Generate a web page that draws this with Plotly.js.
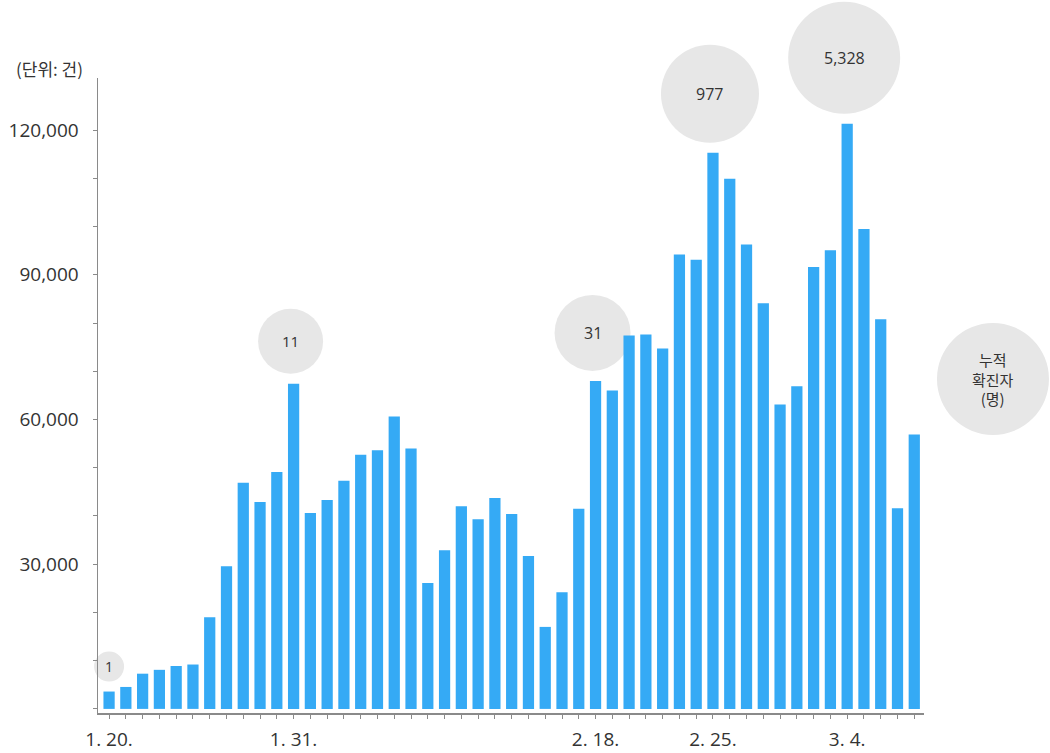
<!DOCTYPE html>
<html>
<head>
<meta charset="utf-8">
<script src="https://cdn.plot.ly/plotly-3.0.1.min.js"></script>
<style>
  html, body { margin: 0; padding: 0; background: #ffffff; }
  #chart { width: 1050px; height: 753px; }
</style>
</head>
<body>
<div id="chart"></div>
<script>
// Dates (categories), 2020-01-20 .. 2020-03-08
const dates = [
  "1.20","1.21","1.22","1.23","1.24","1.25","1.26","1.27","1.28","1.29","1.30","1.31",
  "2.1","2.2","2.3","2.4","2.5","2.6","2.7","2.8","2.9","2.10","2.11","2.12","2.13","2.14",
  "2.15","2.16","2.17","2.18","2.19","2.20","2.21","2.22","2.23","2.24","2.25","2.26","2.27",
  "2.28","2.29","3.1","3.2","3.3","3.4","3.5","3.6","3.7","3.8"
];
// Daily count (단위: 건)
const counts = [
  3600, 4550, 7300, 8100, 8900, 9200, 19000, 29600, 46900, 42900, 49100, 67400,
  40600, 43300, 47300, 52700, 53600, 60600, 54000, 26100, 32900, 42000, 39300, 43700, 40400,
  31700, 17000, 24200, 41500, 68000, 66000, 77400, 77600, 74700, 94200, 93100, 115300, 109900,
  96300, 84100, 63100, 66900, 91600, 95100, 121300, 99500, 80800, 41600, 56900
];
// Labelled x ticks
const tickDates = ["1.20", "1.31", "2.18", "2.25", "3.4"];
const tickTexts = ["1. 20.", "1. 31.", "2. 18.", "2. 25.", "3. 4."];
// Y tick labels
const yTickVals = [30000, 60000, 90000, 120000];
const yTickText = ["30,000", "60,000", "90,000", "120,000"];
const yMinorVals = [0, 10000, 20000, 40000, 50000, 70000, 80000, 100000, 110000];
// Cumulative confirmed cases bubbles (누적 확진자)
const bubbleDates = ["1.20", "1.31", "2.18", "2.25", "3.4"];
const bubbleTexts = ["1", "11", "31", "977", "5,328"];
const bubbleLabel = "누적<br>확진자<br>(명)";
const unitLabel = "(단위: 건)";

// ---- styling ----
const bubbleRadius = [15, 32.5, 38, 49, 56];
const bubbleFont = [14, 15, 16, 16, 16];
const FONT_NUM = '"Open Sans", "Noto Sans CJK KR", sans-serif';
const FONT_KR = '"Noto Sans CJK KR", "Noto Sans", sans-serif';
const BAR = '#35aaf5';
const BUBBLE = '#e7e7e7';
const TXT = '#333333';
const AXIS = '#8a8a8a';
const XR = [-0.66, 48.58];
const YR = [-850, 130800];

const tickLabels = dates.map(d => {
  const i = tickDates.indexOf(d);
  return i >= 0 ? tickTexts[i] : '';
});

const trace = {
  type: 'bar',
  x: dates,
  y: counts,
  marker: { color: BAR, line: { width: 0 } },
  hoverinfo: 'x+y'
};

const toPx = i => (i - XR[0]) / (XR[1] - XR[0]);
const toPy = v => (v - YR[0]) / (YR[1] - YR[0]);

const shapes = [];
const annotations = [];
const GAP = 10;
bubbleDates.forEach((d, k) => {
  const idx = dates.indexOf(d);
  const v = counts[idx];
  const r = bubbleRadius[k];
  const dx = k === 0 ? 0 : -3;
  shapes.push({
    type: 'circle', xref: 'paper', yref: 'paper',
    xsizemode: 'pixel', ysizemode: 'pixel',
    xanchor: toPx(idx), yanchor: toPy(v),
    x0: dx - r, x1: dx + r, y0: GAP, y1: GAP + 2 * r,
    fillcolor: BUBBLE, line: { width: 0 }, layer: 'below'
  });
  annotations.push({
    x: idx, y: v, xref: 'x', yref: 'y',
    text: bubbleTexts[k], showarrow: false,
    xanchor: 'center', yanchor: 'middle',
    xshift: dx, yshift: GAP + r,
    font: { family: FONT_NUM, size: bubbleFont[k], color: TXT }
  });
});
// legend bubble on the right
shapes.push({
  type: 'circle', xref: 'paper', yref: 'paper',
  xsizemode: 'pixel', ysizemode: 'pixel',
  xanchor: 1.0835, yanchor: 0.526,
  x0: -56, x1: 56, y0: -56, y1: 56,
  fillcolor: BUBBLE, line: { width: 0 }, layer: 'below'
});
annotations.push({
  x: 1.0835, y: 0.526, xref: 'paper', yref: 'paper',
  xanchor: 'center', yanchor: 'middle',
  text: bubbleLabel, showarrow: false, align: 'center',
  font: { family: FONT_KR, size: 15, color: TXT }
});
annotations.push({
  x: -0.0593, y: 1.0157, xref: 'paper', yref: 'paper',
  text: unitLabel, showarrow: false, xanchor: 'center', yanchor: 'middle',
  font: { family: FONT_KR, size: 17, color: TXT }
});

const layout = {
  width: 1050, height: 753,
  margin: { l: 98, r: 126, t: 78, b: 40 },
  paper_bgcolor: '#ffffff', plot_bgcolor: 'rgba(0,0,0,0)',
  showlegend: false,
  bargap: 0.33,
  font: { family: FONT_NUM, color: TXT },
  xaxis: {
    type: 'category',
    range: XR,
    tickmode: 'array', tickvals: dates, ticktext: tickLabels,
    ticks: 'outside', ticklen: 4, tickcolor: AXIS, tickwidth: 1,
    showline: true, linecolor: AXIS, linewidth: 1.5,
    showgrid: false, zeroline: false,
    tickangle: 0,
    tickfont: { family: FONT_NUM, size: 19, color: TXT },
    ticklabelstandoff: 5
  },
  yaxis: {
    range: YR,
    tickmode: 'array', tickvals: yTickVals, ticktext: yTickText,
    ticks: 'outside', ticklen: 4, tickcolor: AXIS, tickwidth: 1,
    minor: { tickmode: 'array', tickvals: yMinorVals, ticks: 'outside', ticklen: 4, tickcolor: AXIS, showgrid: false },
    showline: true, linecolor: AXIS, linewidth: 1.5,
    showgrid: false, zeroline: false,
    tickfont: { family: FONT_NUM, size: 19, color: TXT },
    ticklabelstandoff: 10
  },
  shapes: shapes,
  annotations: annotations
};

Plotly.newPlot('chart', [trace], layout, { displayModeBar: false, staticPlot: true });
</script>
</body>
</html>
